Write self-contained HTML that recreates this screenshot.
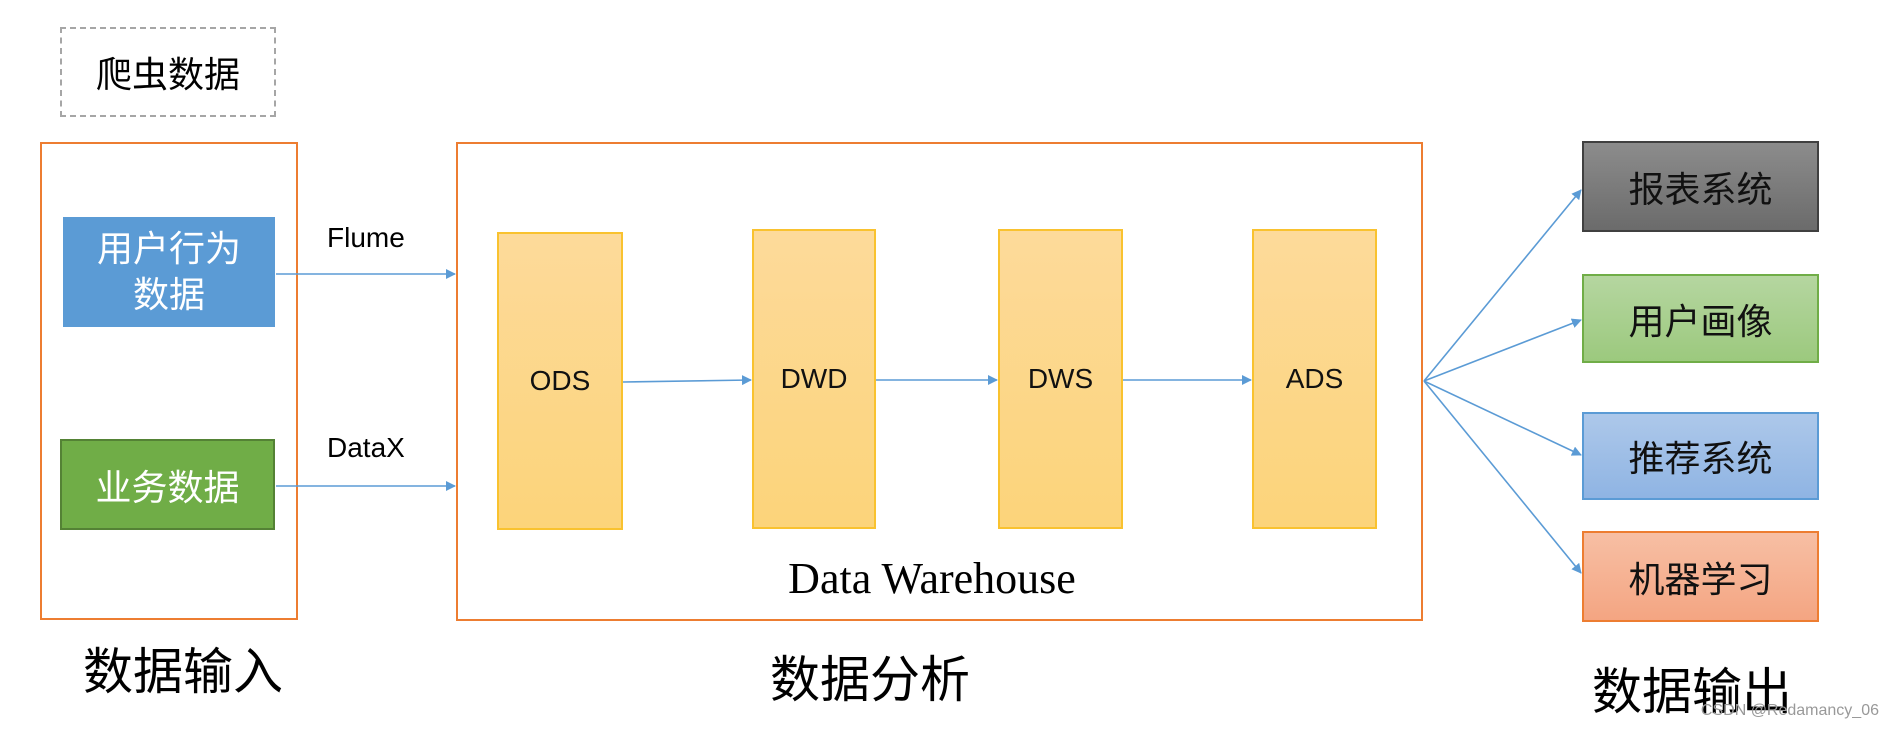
<!DOCTYPE html><html><head><meta charset="utf-8"><style>
body{margin:0;width:1893px;height:731px;background:#fff;position:relative;overflow:hidden;font-family:"Liberation Sans","Noto Sans CJK SC",sans-serif}
.a{position:absolute;box-sizing:border-box;display:flex;align-items:center;justify-content:center;text-align:center}
.t{position:absolute;white-space:nowrap}
.y{background:linear-gradient(#fdda9a,#fcd47a);border:2px solid #f9c22f;font-size:28px;color:#111}
.r{font-size:36px;color:#111}
</style></head><body>
<div class="a" style="left:60px;top:27px;width:216px;height:90px;border:2px dashed #a6a6a6;font-size:36px">爬虫数据</div>
<div class="a" style="left:40px;top:142px;width:258px;height:478px;border:2px solid #ed7d31"></div>
<div class="a" style="left:63px;top:217px;width:212px;height:110px;background:#5b9bd5;color:#fff;font-size:36px;line-height:46px">用户行为<br>数据</div>
<div class="a" style="left:60px;top:439px;width:215px;height:91px;background:#70ad47;border:2px solid #548235;color:#fff;font-size:36px">业务数据</div>
<div class="t" style="left:327px;top:222px;font-size:28px">Flume</div>
<div class="t" style="left:327px;top:432px;font-size:28px">DataX</div>
<div class="a" style="left:456px;top:142px;width:967px;height:479px;border:2px solid #ed7d31"></div>
<div class="a y" style="left:497px;top:232px;width:126px;height:298px">ODS</div>
<div class="a y" style="left:752px;top:229px;width:124px;height:300px">DWD</div>
<div class="a y" style="left:998px;top:229px;width:125px;height:300px">DWS</div>
<div class="a y" style="left:1252px;top:229px;width:125px;height:300px">ADS</div>
<div class="t" style="left:932px;top:553px;transform:translateX(-50%);font-family:'Liberation Serif',serif;font-size:44px">Data Warehouse</div>
<div class="a r" style="left:1582px;top:141px;width:237px;height:91px;background:linear-gradient(#8c8c8c,#6b6b6b);border:2px solid #404040">报表系统</div>
<div class="a r" style="left:1582px;top:274px;width:237px;height:89px;background:linear-gradient(#b5d6a0,#9cc97e);border:2px solid #70ad47">用户画像</div>
<div class="a r" style="left:1582px;top:412px;width:237px;height:88px;background:linear-gradient(#adc8ea,#8fb4e3);border:2px solid #5b9bd5">推荐系统</div>
<div class="a r" style="left:1582px;top:531px;width:237px;height:91px;background:linear-gradient(#f7bfa4,#f4a582);border:2px solid #ed7d31">机器学习</div>
<div class="t" style="left:183px;top:632px;transform:translateX(-50%);font-size:50px">数据输入</div>
<div class="t" style="left:870px;top:640px;transform:translateX(-50%);font-size:50px">数据分析</div>
<div class="t" style="left:1692px;top:652px;transform:translateX(-50%);font-size:50px">数据输出</div>
<div class="t" style="right:14px;top:702px;font-size:16px;color:#999">CSDN @Redamancy_06</div>
<svg width="1893" height="731" style="position:absolute;left:0;top:0">
<defs><marker id="m" markerWidth="10" markerHeight="10" refX="9" refY="5" orient="auto" markerUnits="userSpaceOnUse"><path d="M0,0L10,5L0,10z" fill="#5b9bd5"/></marker></defs>
<g stroke="#5b9bd5" stroke-width="1.6" fill="none" marker-end="url(#m)">
<line x1="276" y1="274" x2="455" y2="274"/>
<line x1="276" y1="486" x2="455" y2="486"/>
<line x1="623" y1="382" x2="751" y2="380"/>
<line x1="876" y1="380" x2="997" y2="380"/>
<line x1="1123" y1="380" x2="1251" y2="380"/>
<line x1="1424" y1="381" x2="1581" y2="190"/>
<line x1="1424" y1="381" x2="1581" y2="320"/>
<line x1="1424" y1="381" x2="1581" y2="455"/>
<line x1="1424" y1="381" x2="1581" y2="573"/>
</g></svg>
</body></html>
